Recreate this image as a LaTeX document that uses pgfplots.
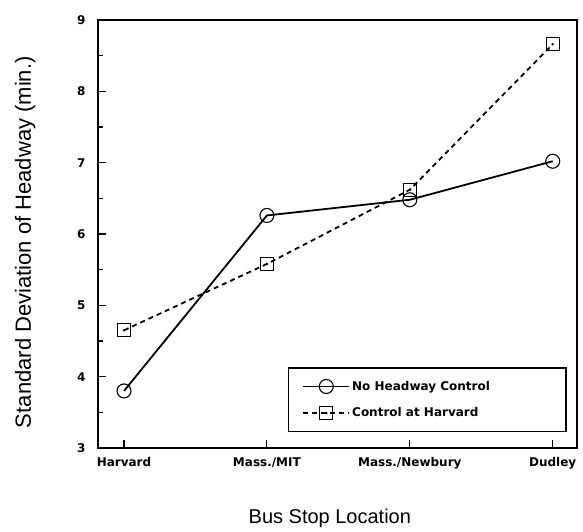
\documentclass[border=0pt]{standalone}
\usepackage{fontspec}
\setmainfont{Liberation Sans}
\newfontfamily\dejavu{DejaVu Sans}
\usepackage{pgfplots}
\pgfplotsset{compat=1.18}
\pgfdeclareplotmark{sqdot}{%
  \pgfpathrectangle{\pgfqpoint{-\pgfplotmarksize}{-\pgfplotmarksize}}{\pgfqpoint{2\pgfplotmarksize}{2\pgfplotmarksize}}%
  \pgfusepathqstroke
  \pgfpathcircle{\pgfpointorigin}{1.4pt}%
  \pgfusepathqfill
}
\begin{document}
\begin{tikzpicture}
\begin{axis}[
  scale only axis,
  width=479pt, height=428pt,
  xmin=-0.182, xmax=3.17,
  ymin=3, ymax=9,
  xtick={0,1,2,3},
  xticklabels={Harvard,Mass./MIT,Mass./Newbury,Dudley},
  ytick={3,4,5,6,7,8,9},
  minor ytick={3.5,4.5,5.5,6.5,7.5,8.5},
  tick align=inside,
  xtick pos=left, ytick pos=left,
  major tick length=8pt, minor tick length=5pt,
  tick style={line width=1.1pt, black},
  axis line style={line width=1.6pt},
  /pgf/number format/assume math mode=true,
  tick label style={font=\dejavu\bfseries\fontsize{12}{14}\selectfont},
  yticklabel style={xshift=-9pt},
  xticklabel style={yshift=-6pt},
  xlabel={Bus Stop Location},
  ylabel={Standard Deviation of Headway (min.)},
  xlabel style={font=\fontsize{20}{24}\selectfont, at={(axis description cs:0.484,-0.164)}, anchor=center},
  ylabel style={font=\fontsize{22}{26}\selectfont, at={(axis description cs:-0.152,0.481)}, anchor=center},
  legend style={at={(0.979,0.037)}, anchor=south east, draw=black, line width=1.5pt,
    font=\dejavu\bfseries\fontsize{12}{14}\selectfont, row sep=12pt, inner xsep=14pt, inner ysep=11pt},
  legend cell align=left,
  legend image code/.code={\draw[mark repeat=2, mark phase=2] plot coordinates {(0pt,0pt) (23pt,0pt) (46pt,0pt)};},
]
\addplot[black, line width=1.8pt, mark=o, mark size=7pt, mark options={solid, line width=1.1pt}]
  coordinates {(0,3.80) (1,6.26) (2,6.48) (3,7.02)};
\addlegendentry{\makebox[198pt][l]{No Headway Control}}
\addplot[black, line width=1.8pt, dash pattern=on 5pt off 4pt, mark=sqdot, mark size=6.5pt, mark options={solid, line width=1.1pt}]
  coordinates {(0,4.65) (1,5.58) (2,6.62) (3,8.66)};
\addlegendentry{\makebox[198pt][l]{Control at Harvard}}
\end{axis}
\path (current axis.south west) ++(-98pt,-83pt) coordinate (bl);
\path (current axis.north east) ++(6pt,20pt) coordinate (tr);
\path[use as bounding box] (bl) rectangle (tr);
\end{tikzpicture}
\end{document}
